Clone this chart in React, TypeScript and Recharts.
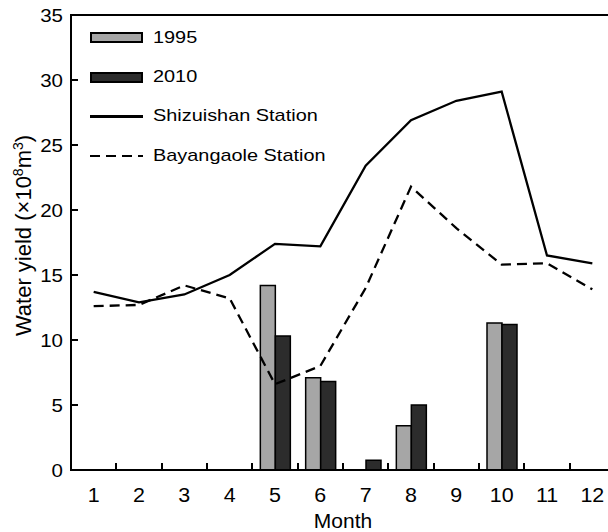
import React from 'react';
import { ComposedChart, Bar, Line, XAxis, YAxis, ReferenceLine, Label } from 'recharts';

const months = ['1', '2', '3', '4', '5', '6', '7', '8', '9', '10', '11', '12'];
const yield1995 = [0, 0, 0, 0, 14.2, 7.1, 0, 3.4, 0, 11.3, 0, 0];
const yield2010 = [0, 0, 0, 0, 10.3, 6.8, 0.75, 5.0, 0, 11.2, 0, 0];
const shizuishan = [13.7, 12.9, 13.5, 15.0, 17.4, 17.2, 23.4, 26.9, 28.4, 29.1, 16.5, 15.9];
const bayangaole = [12.6, 12.7, 14.2, 13.2, 6.6, 8.0, 14.0, 21.8, 18.6, 15.8, 15.9, 13.9];
const yTicks = [0, 5, 10, 15, 20, 25, 30, 35];

const seriesNames = ['1995', '2010', 'Shizuishan Station', 'Bayangaole Station'];

const data = months.map((m, i) => ({
  month: m,
  y1995: yield1995[i],
  y2010: yield2010[i],
  shizuishan: shizuishan[i],
  bayangaole: bayangaole[i],
}));

const FONT = '"Liberation Sans", Arial, Helvetica, sans-serif';
const LIGHT = '#a6a6a6';
const DARK = '#2c2c2c';
const X_TICK_MARGIN = 18;
const Y_TICK_MARGIN = 8;
const LW = 2.3;

// layout
const CHART_W = 640;
const CHART_H = 532;
const M_TOP = 15;
const M_RIGHT = 25;
const Y_AXIS_W = 71;
const X_AXIS_H = 62;
const PLOT_W = CHART_W - M_RIGHT - Y_AXIS_W;
const PLOT_H = CHART_H - M_TOP - X_AXIS_H;
const Y_MAX = 35;

const XTick = (props: any) => {
  const { x, y, payload } = props;
  return (
    <text
      transform={`translate(${x},${y}) scale(1.1,1)`}
      x={0}
      y={0}
      dy="0.71em"
      textAnchor="middle"
      fontSize={19.5}
      fontFamily={FONT}
      fill="#000"
    >
      {payload.value}
    </text>
  );
};

const YTick = (props: any) => {
  const { x, y, payload } = props;
  return (
    <text
      transform={`translate(${x},${y}) scale(1.08,1)`}
      x={0}
      y={0}
      dy="0.355em"
      textAnchor="end"
      fontSize={19}
      fontFamily={FONT}
      fill="#000"
    >
      {payload.value}
    </text>
  );
};

const YLabel = (props: any) => {
  const vb = props.viewBox || { x: 0, y: M_TOP, width: Y_AXIS_W, height: PLOT_H };
  const cx = vb.x + 23;
  const cy = vb.y + vb.height / 2 - 7;
  return (
    <text
      x={cx}
      y={cy}
      transform={`rotate(-90 ${cx} ${cy})`}
      textAnchor="middle"
      dy="0.36em"
      fontSize={22}
      fontFamily={FONT}
      fill="#000"
    >
      Water yield (×10
      <tspan dy={-8} fontSize={14}>8</tspan>
      <tspan dy={8}>m</tspan>
      <tspan dy={-8} fontSize={14}>3</tspan>
      <tspan dy={8}>)</tspan>
    </text>
  );
};

const Frame = () => {
  const bw = PLOT_W / months.length;
  const blk = (key: string, left: number, top: number, width: number, height: number) => (
    <div key={key} style={{ position: 'absolute', left, top, width, height, background: '#000' }} />
  );
  const items = [
    blk('yaxis', Y_AXIS_W - 1, M_TOP - 1, 2, PLOT_H + 2),
    blk('xaxis', Y_AXIS_W - 1, M_TOP + PLOT_H - 1, PLOT_W + 2, 2),
    blk('top', Y_AXIS_W - 1, M_TOP - 1, PLOT_W + 2, 2),
  ];
  months.forEach((m, i) => {
    if (i > 0) items.push(blk('xt' + m, Y_AXIS_W + i * bw - 1, M_TOP + PLOT_H - 7, 2, 7));
  });
  yTicks.forEach((v) => {
    if (v > 0 && v < Y_MAX) items.push(blk('yt' + v, Y_AXIS_W, M_TOP + PLOT_H * (1 - v / Y_MAX) - 1, 7, 2));
  });
  return <div style={{ position: 'absolute', left: 0, top: 0, width: CHART_W, height: CHART_H, pointerEvents: 'none' }}>{items}</div>;
};

const LegendSymbol = ({ idx }: { idx: number }) => {
  if (idx === 0 || idx === 1) {
    return (
      <div
        style={{
          width: 53,
          height: 11,
          boxSizing: 'border-box',
          border: '2px solid #000',
          background: idx === 0 ? LIGHT : DARK,
        }}
      />
    );
  }
  return (
    <div style={{ width: 53, height: 14, display: 'flex', alignItems: 'center' }}>
      <div
        style={{
          width: 53,
          height: LW,
          background:
            idx === 3 ? 'repeating-linear-gradient(to right, #000 0px, #000 10px, transparent 10px, transparent 16px)' : '#000',
        }}
      />
    </div>
  );
};

const ChartLegend = () => (
  <div style={{ position: 'absolute', left: 90, top: 18, fontFamily: FONT }}>
    {seriesNames.map((name, i) => (
      <div key={name} style={{ display: 'flex', alignItems: 'center', height: 39.4 }}>
        <LegendSymbol idx={i} />
        <span
          style={{
            marginLeft: 10,
            fontSize: 17,
            color: '#000',
            display: 'inline-block',
            transform: 'scaleX(1.17)',
            transformOrigin: 'left center',
            whiteSpace: 'nowrap',
          }}
        >
          {name}
        </span>
      </div>
    ))}
  </div>
);

export default function App() {
  return (
    <div
      style={{
        position: 'fixed',
        left: 0,
        top: 0,
        width: 608,
        height: 532,
        overflow: 'hidden',
        background: '#fff',
      }}
    >
      <ComposedChart
        width={CHART_W}
        height={CHART_H}
        data={data}
        margin={{ top: M_TOP, right: M_RIGHT, left: 0, bottom: 0 }}
        barGap={0}
      >
        <XAxis
          dataKey="month"
          height={X_AXIS_H}
          tickSize={0}
          tickMargin={X_TICK_MARGIN}
          tick={<XTick />}
          axisLine={{ stroke: '#000', strokeWidth: 2 }}
          interval={0}
        >
          <Label value="Month" position="insideBottom" offset={4} style={{ fontSize: 21, fill: '#000', fontFamily: FONT }} />
        </XAxis>
        <YAxis
          width={Y_AXIS_W}
          domain={[0, Y_MAX]}
          ticks={yTicks}
          interval={0}
          tickSize={0}
          tickMargin={Y_TICK_MARGIN}
          tick={<YTick />}
          axisLine={{ stroke: '#000', strokeWidth: 2 }}
        >
          <Label content={<YLabel />} />
        </YAxis>
        <ReferenceLine y={Y_MAX} stroke="#000" strokeWidth={2} ifOverflow="visible" />
        <Bar dataKey="y1995" name="1995" fill={LIGHT} stroke="#000" strokeWidth={1.5} barSize={15} isAnimationActive={false} />
        <Bar dataKey="y2010" name="2010" fill={DARK} stroke="#000" strokeWidth={1.5} barSize={15} isAnimationActive={false} />
        <Line
          type="linear"
          dataKey="shizuishan"
          name="Shizuishan Station"
          stroke="#000"
          strokeWidth={LW}
          dot={false}
          activeDot={false}
          isAnimationActive={false}
        />
        <Line
          type="linear"
          dataKey="bayangaole"
          name="Bayangaole Station"
          stroke="#000"
          strokeWidth={LW}
          strokeDasharray="10 6"
          dot={false}
          activeDot={false}
          isAnimationActive={false}
        />
      </ComposedChart>
      <Frame />
      <ChartLegend />
    </div>
  );
}
